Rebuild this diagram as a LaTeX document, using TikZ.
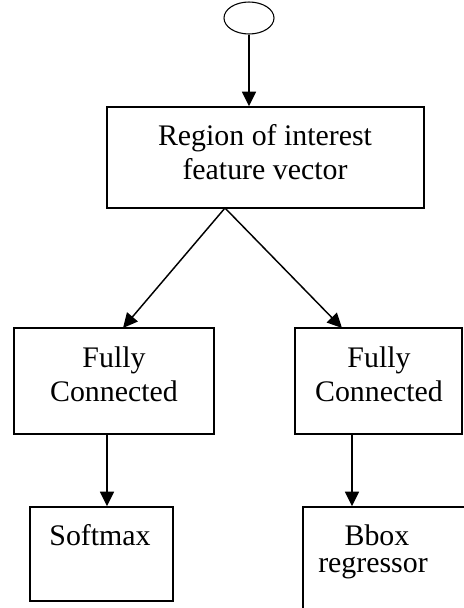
\documentclass[tikz,border=0pt]{standalone}
\usepackage{fontspec}
\setmainfont{Liberation Serif}
\usetikzlibrary{arrows.meta,shapes.geometric}
\begin{document}
\begin{tikzpicture}[x=0.75pt,y=-0.75pt,
  box/.style={draw,line width=1.1pt,inner sep=0pt,fill=white},
  lbl/.style={anchor=base,inner sep=0pt,font=\fontsize{22.4}{27}\selectfont},
  conn/.style={line width=1.1pt,-{Triangle[length=11pt,width=10.5pt]}}]
\useasboundingbox (0,0) rectangle (464,608);
\clip (0,0) rectangle (464,608);
% shapes
\node[draw,ellipse,line width=0.8pt,inner sep=0pt,minimum width=50*0.75pt,minimum height=32*0.75pt] (ell) at (249,18) {};
\node[box,minimum width=317*0.75pt,minimum height=101*0.75pt] (roi) at (265.5,157.5) {};
\node[box,minimum width=200*0.75pt,minimum height=106*0.75pt] (fc1) at (114,381) {};
\node[box,minimum width=167*0.75pt,minimum height=106*0.75pt] (fc2) at (378.5,381) {};
\node[box,minimum width=143*0.75pt,minimum height=94*0.75pt] (soft) at (101.5,554) {};
\node[box,minimum width=167*0.75pt,minimum height=110*0.75pt] (bbox) at (386.5,562) {};
% texts
\node[lbl] (t1) at (265,145) {Region of interest};
\node[lbl] (t2) at (265,179) {feature vector};
\node[lbl] (t3) at (114,367) {Fully};
\node[lbl] (t4) at (114,401) {Connected};
\node[lbl] (t5) at (379,367) {Fully};
\node[lbl] (t6) at (379,401) {Connected};
\node[lbl] (t7) at (100,545) {Softmax};
\node[lbl] (t8) at (377,545) {Bbox};
\node[lbl] (t9) at (373,572) {regressor};
% connector anchors
\coordinate (split) at (225,208);
\coordinate (fc1in) at (123,328);
\coordinate (fc2in) at (342,328);
\coordinate (fc1out) at (107,434);
\coordinate (fc2out) at (352,434);
% connectors
\draw[conn] (ell.south) -- (ell.south |- roi.north);
\draw[conn] (split) -- (fc1in);
\draw[conn] (split) -- (fc2in);
\draw[conn] (fc1out) -- (fc1out |- soft.north);
\draw[conn] (fc2out) -- (fc2out |- bbox.north);
\end{tikzpicture}
\end{document}
